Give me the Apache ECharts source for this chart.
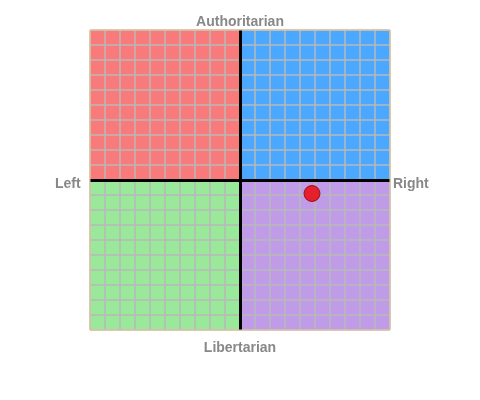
<!DOCTYPE html><html><head><script src="https://cdn.jsdelivr.net/npm/echarts@6/dist/echarts.min.js"></script>
<style>body{margin:0;background:#fff}#c{width:480px;height:400px}</style></head><body><div id="c"></div><script>
const quadrants=[{x:[-10,0],y:[0,10],color:'#f97a7a'},{x:[0,10],y:[0,10],color:'#4aa8ff'},{x:[-10,0],y:[-10,0],color:'#9ae89a'},{x:[0,10],y:[-10,0],color:'#c09be8'}];
const point=[4.8,-0.9];
const labels={top:'Authoritarian',bottom:'Libertarian',left:'Left',right:'Right'};
const ch=echarts.init(document.getElementById('c'));
const ax={type:'value',min:-10,max:10,interval:1,z:3,axisLabel:{show:false},axisTick:{show:false},
 axisLine:{show:false},splitLine:{show:true,lineStyle:{color:'#b8b8b8',width:1.5}}};
const lt={fill:'#888',fontWeight:'bold',fontSize:14,fontFamily:'Liberation Sans'};
ch.setOption({animation:false,
 grid:{left:90,top:30,width:300,height:300,show:true,borderColor:'#e8c89a',borderWidth:1,z:10},
 xAxis:ax,yAxis:ax,
 graphic:[
  {type:'text',left:'center',top:10,style:Object.assign({text:labels.top},lt)},
  {type:'text',left:'center',top:336,style:Object.assign({text:labels.bottom},lt)},
  {type:'text',left:55,top:172,style:Object.assign({text:labels.left},lt)},
  {type:'text',left:393,top:172,style:Object.assign({text:labels.right},lt)}],
 series:[
  {type:'scatter',data:[],z:1,markArea:{silent:true,data:quadrants.map(q=>[{xAxis:q.x[0],yAxis:q.y[0],itemStyle:{color:q.color}},{xAxis:q.x[1],yAxis:q.y[1]}])}},
  {type:'scatter',data:[point],symbolSize:16,z:6,itemStyle:{color:'#ee0000',borderColor:'#800',borderWidth:1},
  markLine:{silent:true,symbol:'none',label:{show:false},lineStyle:{color:'#000',width:3,type:'solid'},data:[{xAxis:0},{yAxis:0}]}}]
});
</script></body></html>
